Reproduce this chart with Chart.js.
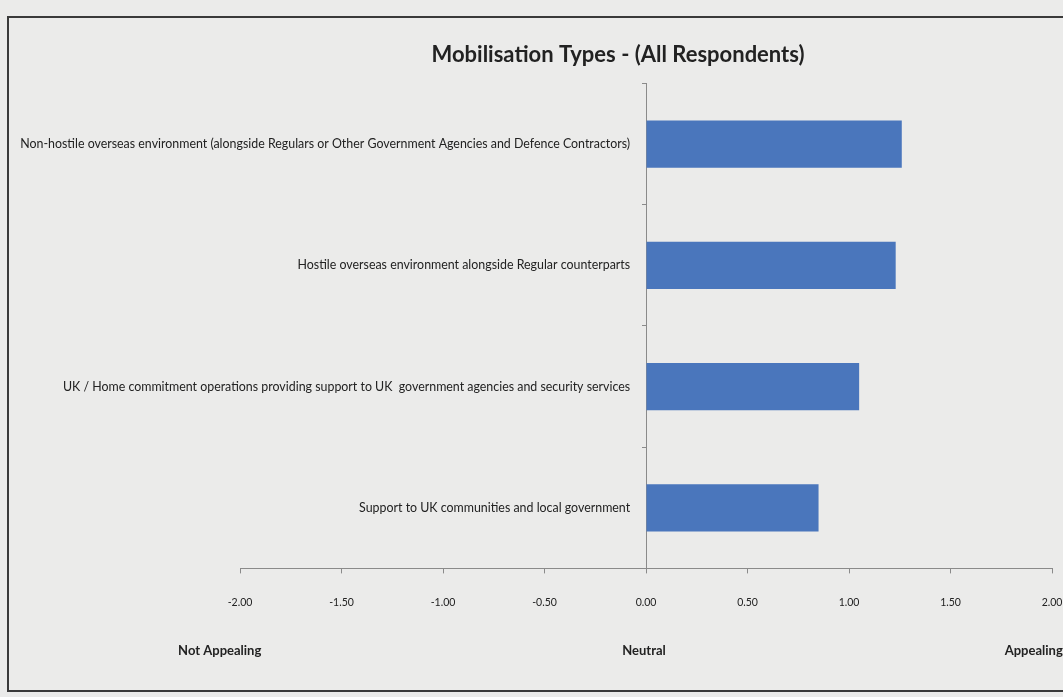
<!DOCTYPE html>
<html>
<head>
<meta charset="utf-8">
<script src="https://cdn.jsdelivr.net/npm/chart.js@4.4.1/dist/chart.umd.min.js"></script>
<style>
  html, body { margin: 0; padding: 0; background: #ebebea; overflow: hidden; width: 1063px; height: 697px; }
  #frame { position: absolute; left: 7px; top: 16px; width: 1300px; height: 676px; border: 2px solid #3a3a3a; box-sizing: border-box; }
  #wrap { position: absolute; left: 0; top: 0; width: 1236px; height: 697px; }
  canvas { display: block; }
</style>
</head>
<body>
<div id="frame"></div>
<div id="wrap"><canvas id="c" width="1236" height="697"></canvas></div>
<script>
const categories = [
  'Non-hostile overseas environment (alongside Regulars or Other Government Agencies and Defence Contractors)',
  'Hostile overseas environment alongside Regular counterparts',
  'UK / Home commitment operations providing support to UK  government agencies and security services',
  'Support to UK communities and local government'
];
const meanScores = [1.26, 1.23, 1.05, 0.85];
const scaleNotes = ['Not Appealing', 'Neutral', 'Appealing'];
const chartTitle = 'Mobilisation Types - (All Respondents)';

const noteAnchors = [-2.1, -0.01, 1.91];

const notesPlugin = {
  id: 'scaleNotes',
  afterDraw(chart) {
    const xs = chart.scales.x;
    const ctx = chart.ctx;
    ctx.save();
    ctx.font = 'bold 13px Lato, "Open Sans", sans-serif';
    ctx.fillStyle = '#222';
    ctx.textAlign = 'center';
    ctx.textBaseline = 'middle';
    scaleNotes.forEach((t, i) => {
      ctx.fillText(t, xs.getPixelForValue(noteAnchors[i]), 651);
    });
    ctx.restore();
  }
};

new Chart(document.getElementById('c'), {
  type: 'bar',
  data: {
    labels: categories,
    datasets: [{
      data: meanScores,
      backgroundColor: '#4a76bc',
      borderWidth: 0,
      categoryPercentage: 1.0,
      barPercentage: 0.39
    }]
  },
  options: {
    indexAxis: 'y',
    responsive: false,
    animation: false,
    layout: { padding: { left: 184, right: 184, top: 0, bottom: 65 } },
    plugins: {
      legend: { display: false },
      tooltip: { enabled: false },
      title: {
        display: true,
        text: chartTitle,
        color: '#222',
        font: { family: 'Lato, "Open Sans", sans-serif', size: 22, weight: 'bold', lineHeight: 1.2 },
        padding: { top: 42, bottom: 15 }
      }
    },
    scales: {
      x: {
        type: 'linear',
        min: -2,
        max: 2,
        ticks: {
          stepSize: 0.5,
          color: '#222',
          padding: 23,
          font: { family: 'Lato, "Open Sans", sans-serif', size: 10.5 },
          callback: v => Number(v).toFixed(2)
        },
        grid: { drawOnChartArea: false, drawTicks: true, tickLength: 5, color: '#8a8a8a' },
        border: { display: true, color: '#8a8a8a', width: 1 }
      },
      y: {
        type: 'category',
        position: { x: 0 },
        ticks: {
          color: '#222',
          font: { family: 'Lato, "Open Sans", sans-serif', size: 12.4 },
          callback(v) { return this.getLabelForValue(v) + '     '; }
        },
        grid: { drawOnChartArea: false, drawTicks: true, tickLength: 4, offset: true, color: '#8a8a8a' },
        border: { display: true, color: '#8a8a8a', width: 1 }
      },
      leftGap: {
        type: 'linear',
        axis: 'y',
        position: 'left',
        display: true,
        ticks: { display: false },
        grid: { display: false },
        border: { display: false },
        afterFit(s) { s.width = 56; }
      }
    }
  },
  plugins: [notesPlugin]
});
</script>
</body>
</html>
